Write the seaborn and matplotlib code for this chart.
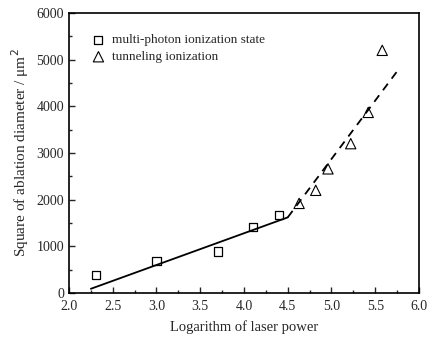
import seaborn as sns
import matplotlib.pyplot as plt
from matplotlib.ticker import MultipleLocator

# measured points
mpi_x = [2.31, 3.0, 3.7, 4.1, 4.4]
mpi_y = [380, 690, 890, 1410, 1670]
tun_x = [4.63, 4.82, 4.96, 5.22, 5.42, 5.58]
tun_y = [1920, 2200, 2660, 3200, 3870, 5200]

# fitted lines (end points)
fit1_x = [2.25, 4.5]
fit1_y = [90, 1620]
fit2_x = [4.5, 5.75]
fit2_y = [1620, 4750]

sns.set_style('ticks')
plt.rcParams['font.family'] = ['Liberation Serif', 'DejaVu Serif']

fig = plt.figure(figsize=(4.38, 3.37), dpi=100)
ax = fig.add_axes([0.1575, 0.1306, 0.7991, 0.8308])

sns.lineplot(x=fit1_x, y=fit1_y, ax=ax, color='black', linewidth=1.3)
sns.lineplot(x=fit2_x, y=fit2_y, ax=ax, color='black', linewidth=1.3, linestyle=(0, (4.5, 3.5)))
sns.scatterplot(x=mpi_x, y=mpi_y, ax=ax, marker='s', s=34, facecolors='none',
                edgecolor='black', linewidth=0.9, label='multi-photon ionization state')
sns.scatterplot(x=tun_x, y=tun_y, ax=ax, marker='^', s=55, facecolors='none',
                edgecolor='black', linewidth=0.8, label='tunneling ionization')

ax.set_xlim(2.0, 6.0)
ax.set_ylim(0, 6000)
ax.xaxis.set_major_locator(MultipleLocator(0.5))
ax.xaxis.set_minor_locator(MultipleLocator(0.25))
ax.yaxis.set_major_locator(MultipleLocator(1000))
ax.yaxis.set_minor_locator(MultipleLocator(500))
ax.xaxis.set_major_formatter(plt.FormatStrFormatter('%.1f'))
ax.tick_params(which='both', direction='in', top=False, right=False, labelsize=10, width=1.0)
ax.tick_params(which='major', length=4)
ax.tick_params(which='minor', length=2.5)
ax.tick_params(axis='x', pad=5)
for sp in ax.spines.values():
    sp.set_visible(True)
    sp.set_linewidth(1.2)
    sp.set_color('black')

ax.set_xlabel('Logarithm of laser power', fontsize=10.5, labelpad=5)
ax.set_ylabel('Square of ablation diameter / μm$^2$', fontsize=11, labelpad=4)

leg = ax.legend(loc='upper left', frameon=False, fontsize=9.5, handletextpad=0.5,
                borderaxespad=1.2, labelspacing=0.35, handlelength=1.0,
                bbox_to_anchor=(0.005, 1.0))

fig.savefig('out.png', dpi=100)
